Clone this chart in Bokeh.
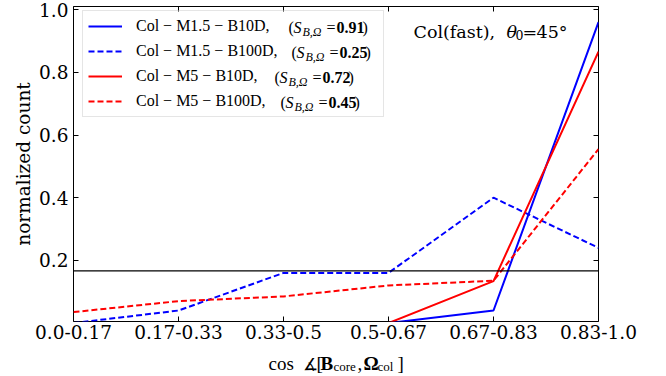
from bokeh.plotting import figure
from bokeh.layouts import column
from bokeh.models import (Range1d, FixedTicker, LinearAxis, Span, Legend, LegendItem,
                          Label, PrintfTickFormatter)
from bokeh.embed import file_html
from bokeh.resources import INLINE

# ---------------- data ----------------
categories = ["0.0-0.17", "0.17-0.33", "0.33-0.5", "0.5-0.67", "0.67-0.83", "0.83-1.0"]
m15_b10d = [0.0, 0.0, 0.0, 0.0, 0.04, 0.96]
m15_b100d = [0.0, 0.04, 0.16, 0.16, 0.40, 0.24]
m5_b10d = [0.0, 0.0, 0.0, 0.0, 0.134, 0.866]
m5_b100d = [0.035, 0.07, 0.085, 0.12, 0.135, 0.555]
series_names = ["Col − M1.5 − B10D,", "Col − M1.5 − B100D,", "Col − M5 − B10D,", "Col − M5 − B100D,"]
s_values = ["0.91", "0.25", "0.72", "0.45"]
uniform = 1.0 / 6.0
y_ticks = [0.2, 0.4, 0.6, 0.8, 1.0]

xs = list(range(len(categories)))

SERIF = "'DejaVu Serif'"
TIMES = "'Liberation Serif'"

MAIN_H = 348
p = figure(width=666, height=MAIN_H, output_backend="svg", toolbar_location=None,
           x_range=Range1d(0, len(categories) - 1), y_range=Range1d(0.005, 1.01),
           min_border_left=73, min_border_right=68, min_border_top=6, min_border_bottom=27)
p.grid.visible = False
p.outline_line_color = "black"
p.outline_line_width = 1
p.background_fill_color = "white"
p.border_fill_color = "white"

# bottom axis
xa = p.xaxis[0]
xa.ticker = FixedTicker(ticks=xs)
xa.major_label_overrides = {i: c for i, c in zip(xs, categories)}
xa.major_label_text_font = SERIF
xa.major_label_text_font_size = "18.5px"
xa.major_label_text_color = "black"
xa.major_label_standoff = 3
xa.major_tick_in = 5
xa.major_tick_out = 0
xa.minor_tick_in = 0
xa.minor_tick_out = 0
xa.axis_line_color = None
xa.major_tick_line_color = "black"

# left axis
ya = p.yaxis[0]
ya.ticker = FixedTicker(ticks=y_ticks)
ya.formatter = PrintfTickFormatter(format="%.1f")
ya.major_label_text_font = SERIF
ya.major_label_text_font_size = "18.5px"
ya.major_label_text_color = "black"
ya.major_label_standoff = 5
ya.major_tick_in = 5
ya.major_tick_out = 0
ya.minor_tick_in = 0
ya.minor_tick_out = 0
ya.axis_line_color = None
ya.major_tick_line_color = "black"
ya.axis_label = "normalized count"
ya.axis_label_text_font = SERIF
ya.axis_label_text_font_size = "18.5px"
ya.axis_label_text_font_style = "normal"
ya.axis_label_text_color = "black"
ya.axis_label_standoff = 2

# tick-only axes on top and right
top = LinearAxis(ticker=FixedTicker(ticks=xs))
top.major_label_overrides = {t: "" for t in xs}
right = LinearAxis(ticker=FixedTicker(ticks=y_ticks))
right.major_label_overrides = {t: "" for t in y_ticks}
for ax in (top, right):
    ax.major_label_text_font_size = "0px"
    ax.major_label_standoff = 0
    ax.major_tick_in = 5
    ax.major_tick_out = 0
    ax.minor_tick_in = 0
    ax.minor_tick_out = 0
    ax.axis_line_color = None
    ax.major_tick_line_color = "black"
p.add_layout(top, "above")
p.add_layout(right, "right")

# uniform reference line
p.add_layout(Span(location=uniform, dimension="width", line_color="black", line_width=1.2))

# series
r1 = p.line(xs, m15_b10d, line_color="#0000ff", line_width=2)
r2 = p.line(xs, m15_b100d, line_color="#0000ff", line_width=2, line_dash="6 3")
r3 = p.line(xs, m5_b10d, line_color="#ff0000", line_width=2)
r4 = p.line(xs, m5_b100d, line_color="#ff0000", line_width=2, line_dash="6 3")

legend = Legend(items=[LegendItem(label=n, renderers=[r]) for n, r in zip(series_names, [r1, r2, r3, r4])],
                location=(9, 204), padding=5, spacing=5, label_height=20, glyph_height=20,
                glyph_width=34, label_standoff=14, label_width=242, margin=0,
                label_text_font=TIMES, label_text_font_size="16px", label_text_color="black",
                border_line_color="#cccccc", border_line_width=1,
                background_fill_color="white", background_fill_alpha=0.0)
p.add_layout(legend)

FL, FB = 73, 321  # frame left / bottom on the canvas, for text placement


def add_text(fig, fl, fb, txt, cx, cy, size, font=TIMES, style="normal", baseline="alphabetic"):
    fig.add_layout(Label(x=cx - fl, y=fb - cy, x_units="screen", y_units="screen", text=txt,
                         text_font=font, text_font_size=f"{size}px", text_font_style=style,
                         text_baseline=baseline, text_align="left", text_color="black"))


# legend annotations: (S_{B,Ω} = value)
group_x = [288, 291, 274, 280]
for i, (gx, sv) in enumerate(zip(group_x, s_values)):
    cy = 12 + 5 + 10 + i * 25
    add_text(p, FL, FB, "(", gx, cy, 16, baseline="middle")
    add_text(p, FL, FB, "S", gx + 5, cy, 16, style="italic", baseline="middle")
    add_text(p, FL, FB, "B,Ω", gx + 14, cy + 4.5, 12, style="italic", baseline="middle")
    add_text(p, FL, FB, "=", gx + 38, cy, 16, baseline="middle")
    add_text(p, FL, FB, sv, gx + 48, cy, 16, style="bold", baseline="middle")
    add_text(p, FL, FB, ")", gx + 74, cy, 16, baseline="middle")

# title text inside the plot
add_text(p, FL, FB, "Col(fast),", 413, 31.5, 17.5, font=SERIF)
add_text(p, FL, FB, "θ", 506, 31.5, 17.5, font=SERIF, style="italic")
add_text(p, FL, FB, "0", 515, 34.5, 12.5, font=SERIF)
add_text(p, FL, FB, "=", 522, 31.5, 17.5, font=SERIF)
add_text(p, FL, FB, "45°", 536, 31.5, 17.5, font=SERIF)

# x axis label strip: cos ∡[B_core, Ω_col]  (its frame is aligned with the main frame)
LABEL_H = 376 - MAIN_H
q = figure(width=666, height=LABEL_H, output_backend="svg", toolbar_location=None,
           x_axis_type=None, y_axis_type=None, x_range=Range1d(0, 1), y_range=Range1d(0, 1),
           min_border_left=0, min_border_right=0, min_border_top=0, min_border_bottom=0)
q.outline_line_color = None
q.grid.visible = False
q.background_fill_color = "white"
q.border_fill_color = "white"
QB = 376  # bottom of the strip on the page
add_text(q, FL, QB, "cos", 268, 363, 19)
add_text(q, FL, QB, "∡", 302, 363, 17, font="'DejaVu Serif'")
add_text(q, FL, QB, "[", 316, 363, 19)
add_text(q, FL, QB, "B", 320, 363, 19, style="bold")
add_text(q, FL, QB, "core", 333, 366, 13)
add_text(q, FL, QB, ",", 357, 363, 19)
add_text(q, FL, QB, "Ω", 363, 363, 19, style="bold")
add_text(q, FL, QB, "col", 377, 366, 13)
add_text(q, FL, QB, "]", 397, 363, 19)

layout = column(p, q, spacing=0)
open("out.html", "w").write(file_html(layout, INLINE))
